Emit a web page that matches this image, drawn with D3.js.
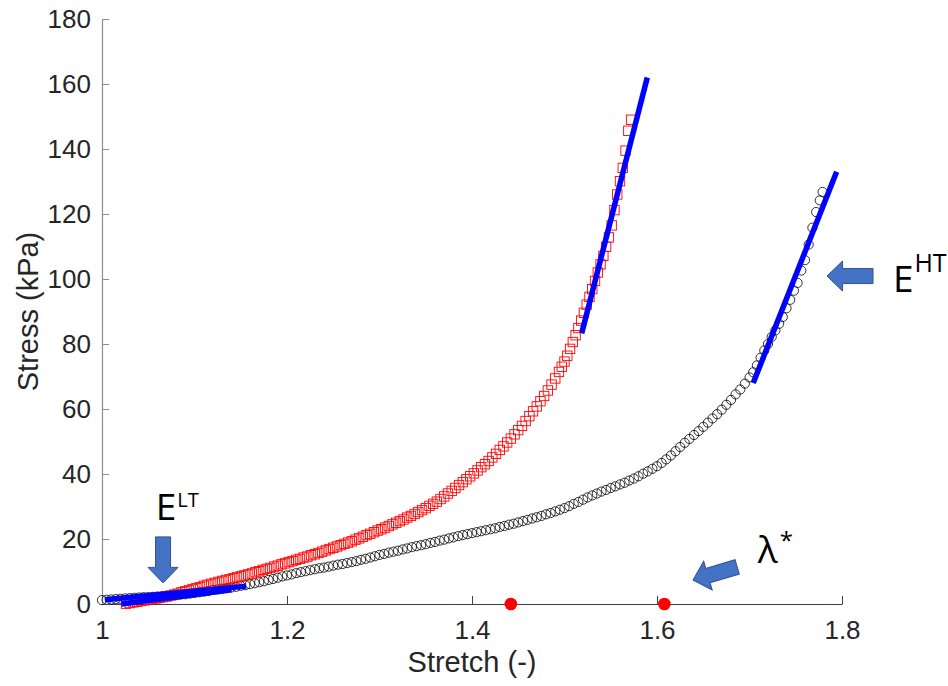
<!DOCTYPE html>
<html>
<head>
<meta charset="utf-8">
<script src="https://cdn.jsdelivr.net/npm/d3@7"></script>
<style>
    html, body { margin: 0; padding: 0; background: #fff; }
    .svg-container { width: 948px; height: 686px; }
</style>
</head>
<body>
<div class="svg-container"></div>
<script>
// Tick labels
const xTicks = [1, 1.2, 1.4, 1.6, 1.8];
const yTicks = [0, 20, 40, 60, 80, 100, 120, 140, 160, 180];

// Black circles : [stretch, stress (kPa)]
const circleSeries = [
    [1.000,1.2],[1.005,1.3],[1.010,1.4],[1.015,1.5],[1.020,1.6],[1.025,1.7],[1.030,1.8],[1.035,1.9],
    [1.040,2.0],[1.045,2.1],[1.050,2.1],[1.055,2.2],[1.060,2.3],[1.065,2.4],[1.070,2.5],[1.075,2.6],
    [1.080,2.7],[1.085,2.9],[1.090,3.0],[1.095,3.2],[1.100,3.4],[1.105,3.6],[1.110,3.8],[1.115,4.0],
    [1.120,4.3],[1.125,4.5],[1.130,4.7],[1.135,4.9],[1.140,5.1],[1.145,5.3],[1.150,5.6],[1.155,5.8],
    [1.160,6.1],[1.165,6.4],[1.170,6.7],[1.175,7.0],[1.180,7.4],[1.185,7.7],[1.190,8.1],[1.195,8.5],
    [1.200,8.8],[1.205,9.1],[1.210,9.5],[1.215,9.8],[1.220,10.1],[1.225,10.4],[1.230,10.7],[1.235,11.0],
    [1.240,11.2],[1.245,11.5],[1.250,11.8],[1.255,12.1],[1.260,12.3],[1.265,12.6],[1.270,12.9],[1.275,13.2],
    [1.280,13.6],[1.285,13.9],[1.290,14.3],[1.295,14.7],[1.300,15.1],[1.305,15.4],[1.310,15.8],[1.315,16.1],
    [1.320,16.4],[1.325,16.8],[1.330,17.1],[1.335,17.5],[1.340,17.8],[1.345,18.1],[1.350,18.4],[1.355,18.8],
    [1.360,19.1],[1.365,19.5],[1.370,19.8],[1.375,20.2],[1.380,20.5],[1.385,20.9],[1.390,21.2],[1.395,21.5],
    [1.400,21.8],[1.405,22.1],[1.410,22.4],[1.415,22.7],[1.420,23.0],[1.425,23.3],[1.430,23.7],[1.435,24.0],
    [1.440,24.4],[1.445,24.7],[1.450,25.1],[1.455,25.5],[1.460,25.9],[1.465,26.3],[1.470,26.7],[1.475,27.1],
    [1.480,27.6],[1.485,28.0],[1.490,28.5],[1.495,29.0],[1.500,29.5],[1.505,30.1],[1.510,30.8],[1.515,31.4],
    [1.520,32.1],[1.525,32.8],[1.530,33.4],[1.535,34.0],[1.540,34.6],[1.545,35.1],[1.550,35.7],[1.555,36.2],
    [1.560,36.8],[1.565,37.3],[1.570,38.0],[1.575,38.6],[1.580,39.3],[1.585,40.1],[1.590,40.8],[1.595,41.6],
    [1.600,42.4],[1.605,43.4],[1.610,44.5],[1.615,45.7],[1.620,47.0],[1.625,48.3],[1.630,49.6],[1.635,50.8],
    [1.640,52.0],[1.645,53.2],[1.650,54.5],[1.655,55.8],[1.660,57.1],[1.665,58.4],[1.670,59.8],[1.675,61.3],
    [1.680,62.8],[1.685,64.5],[1.690,66.0],[1.695,67.8],[1.700,69.7],[1.704,71.3],[1.708,73.4],[1.712,75.8],
    [1.716,78.0],[1.720,80.0],[1.724,82.2],[1.728,84.2],[1.732,86.2],[1.736,88.3],[1.740,91.0],[1.744,93.6],
    [1.748,96.4],[1.752,98.8],[1.756,102.6],[1.760,105.8],[1.764,110.6],[1.768,115.8],[1.772,120.6],[1.776,124.2],
    [1.779,126.8]
];

// Red squares : [stretch, stress (kPa)]
const squareSeries = [
    [1.026,0.1],[1.030,0.3],[1.034,0.5],[1.038,0.7],[1.042,0.9],[1.046,1.1],[1.050,1.3],[1.054,1.5],
    [1.058,1.7],[1.062,1.9],[1.066,2.1],[1.070,2.3],[1.074,2.6],[1.078,2.9],[1.082,3.2],[1.086,3.6],
    [1.090,3.9],[1.094,4.2],[1.098,4.6],[1.102,4.9],[1.106,5.2],[1.110,5.6],[1.114,5.9],[1.118,6.2],
    [1.122,6.5],[1.126,6.8],[1.130,7.1],[1.134,7.4],[1.138,7.6],[1.142,7.9],[1.146,8.2],[1.150,8.5],
    [1.154,8.8],[1.158,9.1],[1.162,9.4],[1.166,9.8],[1.170,10.1],[1.174,10.5],[1.178,10.8],[1.182,11.1],
    [1.186,11.5],[1.190,11.8],[1.194,12.2],[1.198,12.5],[1.202,12.9],[1.206,13.2],[1.210,13.6],[1.214,13.9],
    [1.218,14.3],[1.222,14.6],[1.226,15.0],[1.230,15.3],[1.234,15.7],[1.238,16.1],[1.242,16.5],[1.246,16.9],
    [1.250,17.3],[1.254,17.7],[1.258,18.1],[1.262,18.5],[1.266,18.9],[1.270,19.3],[1.274,19.8],[1.278,20.2],
    [1.282,20.7],[1.286,21.2],[1.290,21.6],[1.294,22.1],[1.298,22.6],[1.302,23.0],[1.306,23.5],[1.310,24.0],
    [1.314,24.5],[1.318,25.0],[1.322,25.5],[1.326,26.0],[1.330,26.6],[1.334,27.1],[1.338,27.7],[1.342,28.3],
    [1.346,28.9],[1.350,29.5],[1.354,30.2],[1.358,30.8],[1.362,31.5],[1.366,32.3],[1.370,33.1],[1.374,34.0],
    [1.378,34.8],[1.382,35.7],[1.386,36.6],[1.390,37.5],[1.394,38.4],[1.398,39.3],[1.402,40.2],[1.406,41.1],
    [1.410,42.1],[1.414,43.0],[1.418,44.0],[1.422,45.1],[1.426,46.2],[1.430,47.4],[1.434,48.5],[1.438,49.7],
    [1.442,50.9],[1.446,52.2],[1.450,53.5],[1.454,54.8],[1.458,56.3],[1.462,57.8],[1.466,59.3],[1.470,60.8],
    [1.474,62.4],[1.478,64.0],[1.482,65.7],[1.486,67.5],[1.490,69.4],[1.494,71.4],[1.497,73.0],[1.500,74.6],
    [1.503,76.4],[1.506,78.5],[1.509,80.6],[1.512,82.7],[1.515,84.9],[1.518,87.2],[1.521,89.6],[1.524,92.1],
    [1.527,94.5],[1.530,96.9],[1.533,99.4],[1.536,102.0],[1.539,104.5],[1.542,107.1],[1.545,109.9],[1.548,112.8],
    [1.551,116.5],[1.554,121.2],[1.557,126.0],[1.560,130.1],[1.563,134.2],[1.566,139.5],[1.569,145.6],[1.572,149.0]
];

// Linear fits (blue) : low / high tangent moduli, [[x0,y0],[x1,y1]]
const fitLines = [
    [[1.003, 1.3], [1.156, 5.5]],
    [[1.021, 0.0], [1.140, 4.4]],
    [[1.5186, 83.3], [1.5895, 162.0]],
    [[1.704, 68.0], [1.7942, 133.0]]
];

// Transition stretch (red dots on the axis)
const transitionStretch = [1.442, 1.608];

/**
 * Chart Manager
 *          draws the stress / stretch curves with the tangent fits
 */
const chartManager = (() => {
    // Constant
    const SIZE = Object.assign({}, { WIDTH: 948, HEIGHT: 686 });
    const PLOT = Object.assign({}, { LEFT: 102, RIGHT: 842, TOP: 19, BOTTOM: 604 });
    const TEXT = '#262626';
    const AXIS_FONT = '"Liberation Sans", Arial, Helvetica, sans-serif';
    const ARROW_FILL = '#4472c4';
    const ARROW_STROKE = '#2f528f';

    const x = d3.scaleLinear().domain([1, 1.8]).range([PLOT.LEFT, PLOT.RIGHT]);
    const y = d3.scaleLinear().domain([0, 180]).range([PLOT.BOTTOM, PLOT.TOP]);

    /**
     * Init SVG
     * @return {Object} svg
     */
    const initSVG = () => {
        let svg = d3.select('.svg-container').append('svg')
                    .attr('width', SIZE.WIDTH)
                    .attr('height', SIZE.HEIGHT)
                    .style('background', '#fff');
        return svg;
    };

    /**
     * Axes, MATLAB look (ticks inside)
     * @param {Object} svg
     */
    const drawAxes = (svg) => {
        let xAxis = svg.append('g')
            .attr('transform', `translate(0, ${PLOT.BOTTOM})`)
            .call(d3.axisBottom(x).tickValues(xTicks).tickFormat(d3.format('~g'))
                    .tickSizeInner(-8).tickSizeOuter(0).tickPadding(17));
        xAxis.select('.domain').attr('stroke', '#404040').attr('stroke-width', 1.2);
        xAxis.selectAll('.tick line').attr('stroke', '#404040');

        let yAxis = svg.append('g')
            .attr('transform', `translate(${PLOT.LEFT}, 0)`)
            .call(d3.axisLeft(y).tickValues(yTicks)
                    .tickSizeInner(-7).tickSizeOuter(0).tickPadding(11));
        yAxis.select('.domain').attr('stroke', '#8c8c8c').attr('stroke-width', 1.2);
        yAxis.selectAll('.tick line').attr('stroke', '#8c8c8c');

        svg.selectAll('.tick text')
           .attr('fill', TEXT)
           .style('font-family', AXIS_FONT)
           .style('font-size', '26px');

        svg.append('text')
           .attr('x', (PLOT.LEFT + PLOT.RIGHT) / 2)
           .attr('y', 672)
           .attr('text-anchor', 'middle')
           .attr('fill', TEXT)
           .style('font-family', AXIS_FONT)
           .style('font-size', '29px')
           .text('Stretch (-)');

        svg.append('text')
           .attr('transform', `translate(38, ${(PLOT.TOP + PLOT.BOTTOM) / 2}) rotate(-90)`)
           .attr('text-anchor', 'middle')
           .attr('fill', TEXT)
           .style('font-family', AXIS_FONT)
           .style('font-size', '29px')
           .text('Stress (kPa)');
    };

    /**
     * Markers
     * @param {Object} svg
     */
    const drawSeries = (svg) => {
        svg.append('g').selectAll('circle')
           .data(circleSeries)
           .enter()
           .append('circle')
           .attr('cx', d => x(d[0]))
           .attr('cy', d => y(d[1]))
           .attr('r', 4.6)
           .attr('fill', 'none')
           .attr('stroke', '#000')
           .attr('stroke-width', 0.8);

        const half = 4.7;
        svg.append('g').selectAll('rect')
           .data(squareSeries)
           .enter()
           .append('rect')
           .attr('x', d => x(d[0]) - half)
           .attr('y', d => y(d[1]) - half)
           .attr('width', half * 2)
           .attr('height', half * 2)
           .attr('fill', 'none')
           .attr('stroke', '#ff0000')
           .attr('stroke-width', 0.9);
    };

    /**
     * Tangent fits + transition points
     * @param {Object} svg
     */
    const drawFits = (svg) => {
        const line = d3.line().x(d => x(d[0])).y(d => y(d[1]));
        svg.append('g').selectAll('path')
           .data(fitLines)
           .enter()
           .append('path')
           .attr('d', line)
           .attr('fill', 'none')
           .attr('stroke', '#0000ff')
           .attr('stroke-width', 5.5);

        svg.append('g').selectAll('circle')
           .data(transitionStretch)
           .enter()
           .append('circle')
           .attr('cx', d => x(d))
           .attr('cy', y(0))
           .attr('r', 6.3)
           .attr('fill', '#ff0000');
    };

    /**
     * Block arrow, tip at (tx, ty), body going along angle
     */
    const blockArrow = (svg, tx, ty, angle) => {
        const L = 46, HL = 15.5, HW = 30, SW = 15;
        const pts = [[0, 0], [HL, -HW / 2], [HL, -SW / 2], [L, -SW / 2],
                     [L, SW / 2], [HL, SW / 2], [HL, HW / 2]];
        svg.append('polygon')
           .attr('points', pts.map(p => p.join(',')).join(' '))
           .attr('transform', `translate(${tx}, ${ty}) rotate(${angle})`)
           .attr('fill', ARROW_FILL)
           .attr('stroke', ARROW_STROKE)
           .attr('stroke-width', 1);
    };

    /**
     * Label with superscript
     */
    const supLabel = (svg, px, py, main, sup, size, supSize, supDx, supDy) => {
        let t = svg.append('text')
                   .attr('x', px)
                   .attr('y', py)
                   .attr('fill', '#000')
                   .style('font-family', '"Open Sans", "Noto Sans", sans-serif');
        t.append('tspan').style('font-size', `${size}px`).text(main);
        t.append('tspan').style('font-size', `${supSize}px`)
         .attr('dx', supDx).attr('dy', supDy).text(sup);
    };

    const drawAnnotations = (svg) => {
        // low tension modulus
        blockArrow(svg, x(1.066), y(6.5), -90);
        supLabel(svg, x(1.058), y(25.8), 'E', 'LT', 37, 20, 1, -13);
        // high tension modulus
        blockArrow(svg, x(1.7838), y(100.9), 0);
        supLabel(svg, x(1.855), y(96), 'E', 'HT', 37, 25, 1, -20);
        // transition stretch
        blockArrow(svg, x(1.639), y(7.4), -16.5);
        supLabel(svg, x(1.709), y(12.6), 'λ', '*', 37, 24, 2, -14);
    };

    const init = () => {
        let svg = initSVG();
        drawAxes(svg);
        drawSeries(svg);
        drawFits(svg);
        drawAnnotations(svg);
    };

    return {
        init: init
    }
})();

chartManager.init();
</script>
</body>
</html>
